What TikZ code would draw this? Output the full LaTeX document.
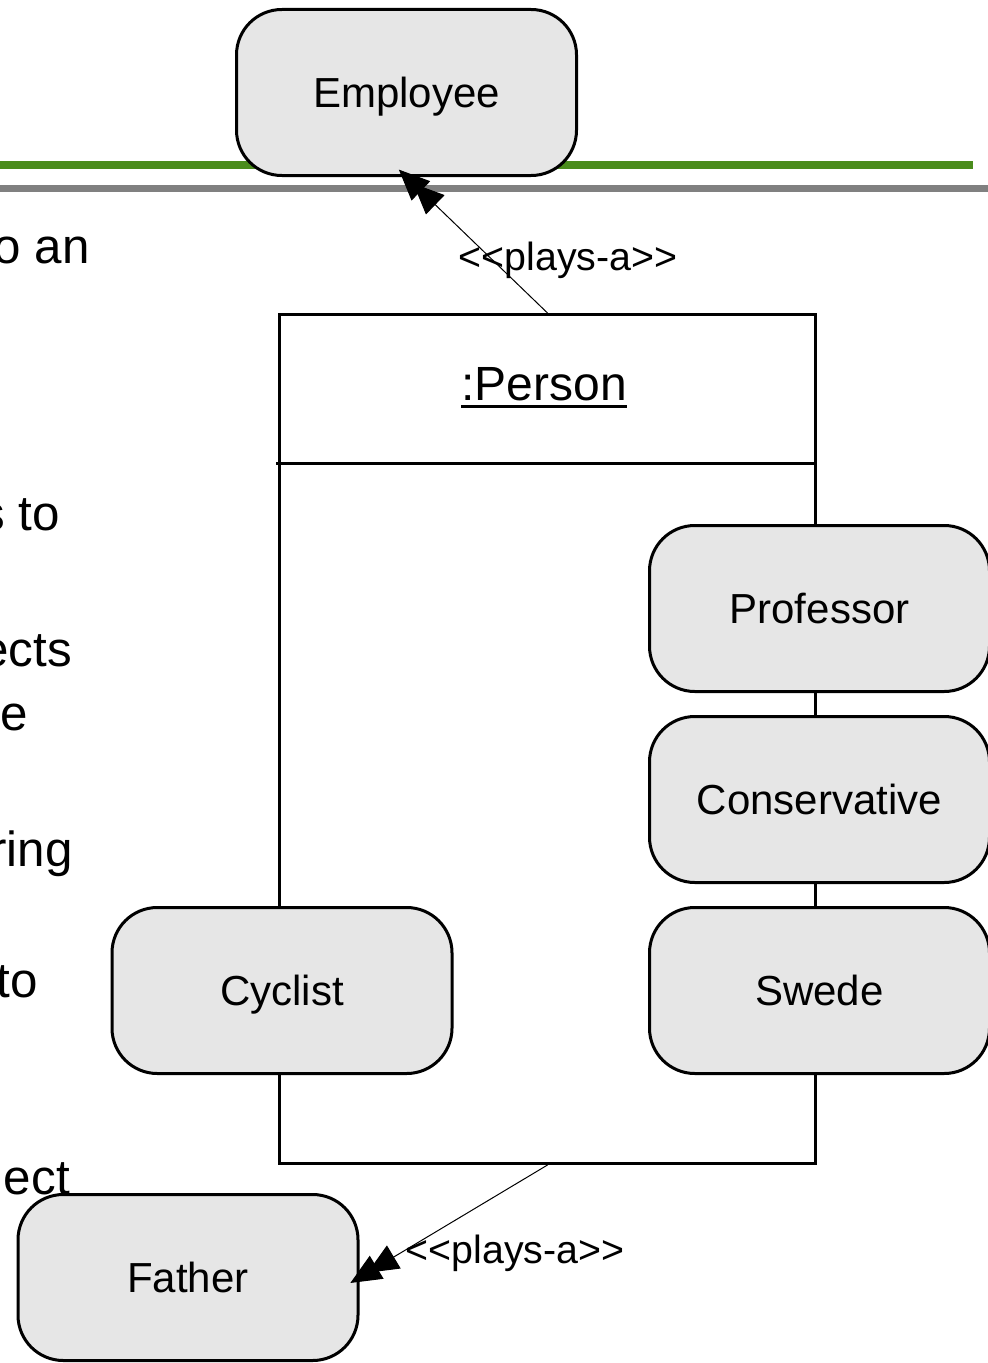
\documentclass[tikz,border=0pt]{standalone}
\usepackage{fontspec}
\setmainfont{Liberation Sans}[Ligatures=TeXOff]
\usetikzlibrary{arrows.meta}
\definecolor{boxfill}{HTML}{E6E6E6}
\definecolor{bargreen}{RGB}{74,140,28}
\definecolor{bargray}{HTML}{808080}
\begin{document}
\begin{tikzpicture}[x=0.75pt,y=-0.75pt,
  rolebox/.style={draw=black, line width=2.25pt, fill=boxfill, rounded corners=34pt,
    minimum width=255pt, minimum height=124.5pt, inner sep=0pt,
    text height=22.5pt, text depth=0pt,
    font=\fontsize{31.5}{36}\selectfont},
  sidetext/.style={anchor=base east, inner sep=0pt, font=\fontsize{37}{44}\selectfont},
  playsline/.style={line width=0.75pt,
    -{Triangle[length=23pt,width=20pt,sep=-8pt]Triangle[length=23pt,width=20pt,sep=-8pt]}},
  playslabel/.style={anchor=base, inner sep=0pt, font=\fontsize{29.5}{34}\selectfont}]
\useasboundingbox (0,0) rectangle (988,1363);
\clip (0,0) rectangle (988,1363);
% background bars
\draw[bargreen, line width=6pt] (0,165) -- (973,165);
\draw[bargray, line width=5.25pt] (0,188) -- (988,188);
% clipped text on the left
\node[sidetext] (t1) at (90,263) {o an};
\node[sidetext] (t2) at (60,530) {s to};
\node[sidetext] (t3) at (72,666) {ects};
\node[sidetext] (t4) at (28,730) {e};
\node[sidetext] (t5) at (73,866) {ring};
\node[sidetext] (t6) at (38,997) {to};
\node[sidetext] (t7) at (70,1194) {ect};
% the object
\node[draw=black, line width=2.25pt, fill=white, minimum width=402pt,
  minimum height=636.75pt, inner sep=0pt] (person) at (547.5,739) {};
\draw[line width=2.25pt] (276,463) -- (817,463);
\node[anchor=base, inner sep=0pt, font=\fontsize{36}{43}\selectfont] (ptitle) at (544,400) {:Person};
\draw[line width=2.25pt] ([yshift=-5pt]ptitle.base west) -- ([yshift=-5pt]ptitle.base east);
% roles
\node[rolebox] (employee) at (406.5,92.5) {Employee};
\node[rolebox] (professor) at (819.5,608.5) {Professor};
\node[rolebox] (conservative) at (819.5,799.5) {Conservative};
\node[rolebox] (swede) at (819.5,990.5) {Swede};
\node[rolebox] (cyclist) at (282,990.5) {Cyclist};
\node[rolebox] (father) at (188,1277.5) {Father};
% plays-a connectors
\draw[playsline] (person.north) -- (employee.south);
\draw[playsline] (person.south) -- (father.east);
\node[playslabel] (lab1) at (568,270) {<<plays-a>>};
\node[playslabel] (lab2) at (515,1263) {<<plays-a>>};
\end{tikzpicture}
\end{document}
